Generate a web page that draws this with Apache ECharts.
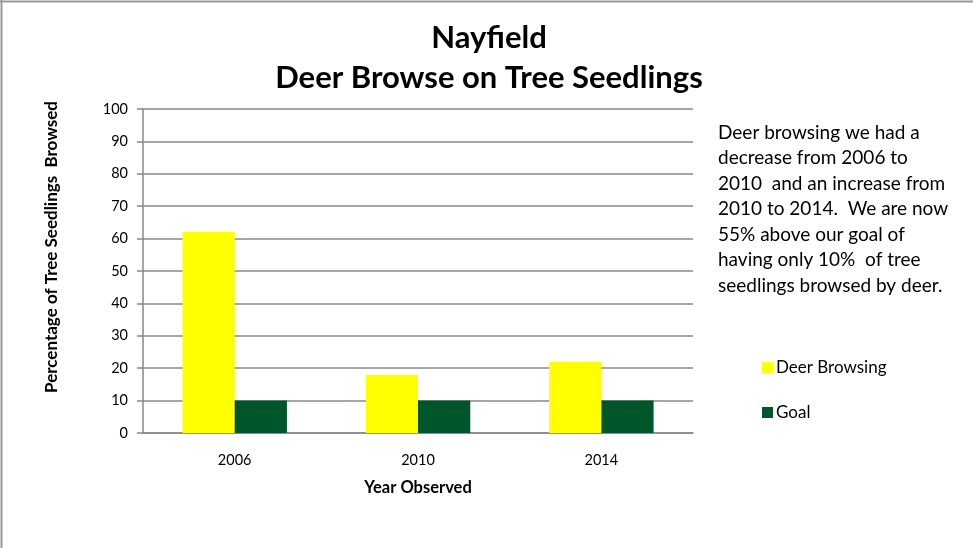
<!DOCTYPE html>
<html><head><meta charset="utf-8">
<script src="https://cdn.jsdelivr.net/npm/echarts@6/dist/echarts.min.js"></script>
<style>html,body{margin:0;padding:0;background:#fff}#c{width:973px;height:548px}</style>
</head><body><div id="c"></div>
<script>
const categories = ['2006', '2010', '2014'];
const deerBrowsing = [62, 18, 22];
const goal = [10, 10, 10];
const yTicks = [0, 100, 10];
const titleLines = ['Nayfield', 'Deer Browse on Tree Seedlings'];
const yAxisTitle = 'Percentage of Tree Seedlings  Browsed';
const xAxisTitle = 'Year Observed';
const noteLines = [
  'Deer browsing we had a',
  'decrease from 2006 to',
  '2010  and an increase from',
  '2010 to 2014.  We are now',
  '55% above our goal of',
  'having only 10%  of tree',
  'seedlings browsed by deer.'
];
const FONT = 'Lato, "Open Sans", sans-serif';
const chart = echarts.init(document.getElementById('c'));
chart.setOption({
  animation: false,
  backgroundColor: '#fff',
  title: {
    text: titleLines.join('\n'),
    left: 484, textAlign: 'center', top: 13,
    textStyle: { fontFamily: FONT, fontWeight: 'bold', fontSize: 31, lineHeight: 40, color: '#000' }
  },
  grid: { left: 143, right: 280, top: 109, bottom: 115, containLabel: false },
  legend: {
    orient: 'vertical', left: 757, top: 354, itemGap: 28, itemWidth: 11, itemHeight: 11,
    icon: 'rect',
    textStyle: { fontFamily: FONT, fontSize: 17, color: '#000', padding: [0, 0, 0, -2] },
    data: ['Deer Browsing', 'Goal']
  },
  xAxis: {
    type: 'category', data: categories,
    name: xAxisTitle, nameLocation: 'middle', nameGap: 46,
    nameTextStyle: { fontFamily: FONT, fontWeight: 'bold', fontSize: 16.5, color: '#000' },
    axisLine: { lineStyle: { color: '#888', width: 1.5 } },
    axisTick: { show: false },
    axisLabel: { fontFamily: FONT, fontSize: 14.5, color: '#000', margin: 20 }
  },
  yAxis: {
    type: 'value', min: yTicks[0], max: yTicks[1], interval: yTicks[2],
    axisLine: { show: true, lineStyle: { color: '#888', width: 1.5 } },
    axisTick: { show: true, length: 6, lineStyle: { color: '#888', width: 1.5 } },
    axisLabel: { fontFamily: FONT, fontSize: 14.5, color: '#000', margin: 15 },
    splitLine: { lineStyle: { color: '#888', width: 1.5 } }
  },
  series: [
    { name: 'Deer Browsing', type: 'bar', data: deerBrowsing, barGap: '0%', barCategoryGap: '43%', itemStyle: { color: '#FFFF00' } },
    { name: 'Goal', type: 'bar', data: goal, barGap: '0%', barCategoryGap: '43%', itemStyle: { color: '#00562B' } }
  ],
  graphic: [
    { type: 'line', shape: { x1: 0, y1: 1.5, x2: 973, y2: 1.5 }, style: { stroke: '#999', lineWidth: 2 } },
    { type: 'line', shape: { x1: 1.5, y1: 0, x2: 1.5, y2: 548 }, style: { stroke: '#999', lineWidth: 2 } },
    { type: 'text', x: 52, y: 247, rotation: Math.PI / 2,
      style: { text: yAxisTitle, fontFamily: FONT, fontWeight: 'bold', fontSize: 17, fill: '#000', align: 'center', verticalAlign: 'middle' } },
    { type: 'text', left: 718, top: 120,
      style: { text: noteLines.join('\n'), fontFamily: FONT, fontSize: 19, lineHeight: 25.5, fill: '#000' } }
  ]
});
</script></body></html>
